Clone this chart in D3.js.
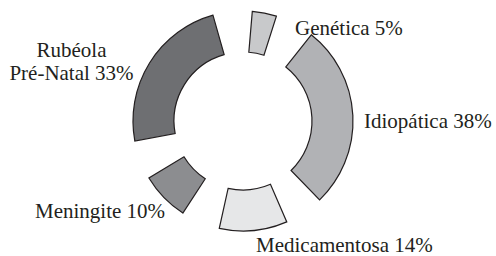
<!DOCTYPE html>
<html>
<head>
<meta charset="utf-8">
<script src="https://cdn.jsdelivr.net/npm/d3@7"></script>
<style>
  html, body { margin: 0; padding: 0; background: #fff; }
  svg { display: block; }
  text { font-family: "Liberation Serif", "Times New Roman", serif; fill: #231f20; }
</style>
</head>
<body>
<svg id="chart" width="496" height="256"></svg>
<script>
// ---- data ----
const categories = ["Genética", "Idiopática", "Medicamentosa", "Meningite", "Rubéola Pré-Natal"];
const values = [5, 38, 14, 10, 33];
const labelLines = [["Genética 5%"], ["Idiopática 38%"], ["Medicamentosa 14%"], ["Meningite 10%"], ["Rubéola", "Pré-Natal 33%"]];
const colors = ["#c8c9cb", "#b1b2b5", "#e6e7e8", "#8c8d90", "#6e6f72"];

// ---- layout ----
const W = 496, H = 256;
const cx = 243, cy = 121;
const innerR = 69, outerR = 110;
const deg = Math.PI / 180;
const gap = 20.7 * deg;
const start = -5.5 * deg;
const labelLayout = [
  { x: 295, y: 35, anchor: "start" },
  { x: 364, y: 128, anchor: "start" },
  { x: 256, y: 252, anchor: "start" },
  { x: 35, y: 218, anchor: "start" },
  { x: 71.5, y: 57, anchor: "middle" }
];

const svg = d3.select("#chart");
const data = categories.map((c, i) => ({ name: c, value: values[i], color: colors[i], lines: labelLines[i], i }));

const pie = d3.pie().sort(null).value(d => d.value)
  .startAngle(start).endAngle(start + 2 * Math.PI).padAngle(gap);
const arcs = pie(data);

// radial (constant-angle) gaps: trim each slice by half the pad on each side
const arc = d3.arc().innerRadius(innerR).outerRadius(outerR)
  .padAngle(0)
  .startAngle(d => d.startAngle + d.padAngle / 2)
  .endAngle(d => d.endAngle - d.padAngle / 2);

const g = svg.append("g").attr("transform", `translate(${cx},${cy})`);
g.selectAll("path").data(arcs).join("path")
  .attr("d", arc)
  .attr("fill", d => d.data.color)
  .attr("stroke", "#231f20")
  .attr("stroke-width", 1.2)
  .attr("stroke-linejoin", "miter");

const lab = svg.selectAll("text.lbl").data(data).join("text")
  .attr("class", "lbl")
  .attr("x", d => labelLayout[d.i].x)
  .attr("y", d => labelLayout[d.i].y)
  .attr("text-anchor", d => labelLayout[d.i].anchor)
  .style("font-size", "21px");
lab.selectAll("tspan").data(d => d.lines.map(l => ({ l, x: labelLayout[d.i].x }))).join("tspan")
  .attr("x", t => t.x)
  .attr("dy", (t, j) => j === 0 ? 0 : 23)
  .text(t => t.l);
</script>
</body>
</html>
